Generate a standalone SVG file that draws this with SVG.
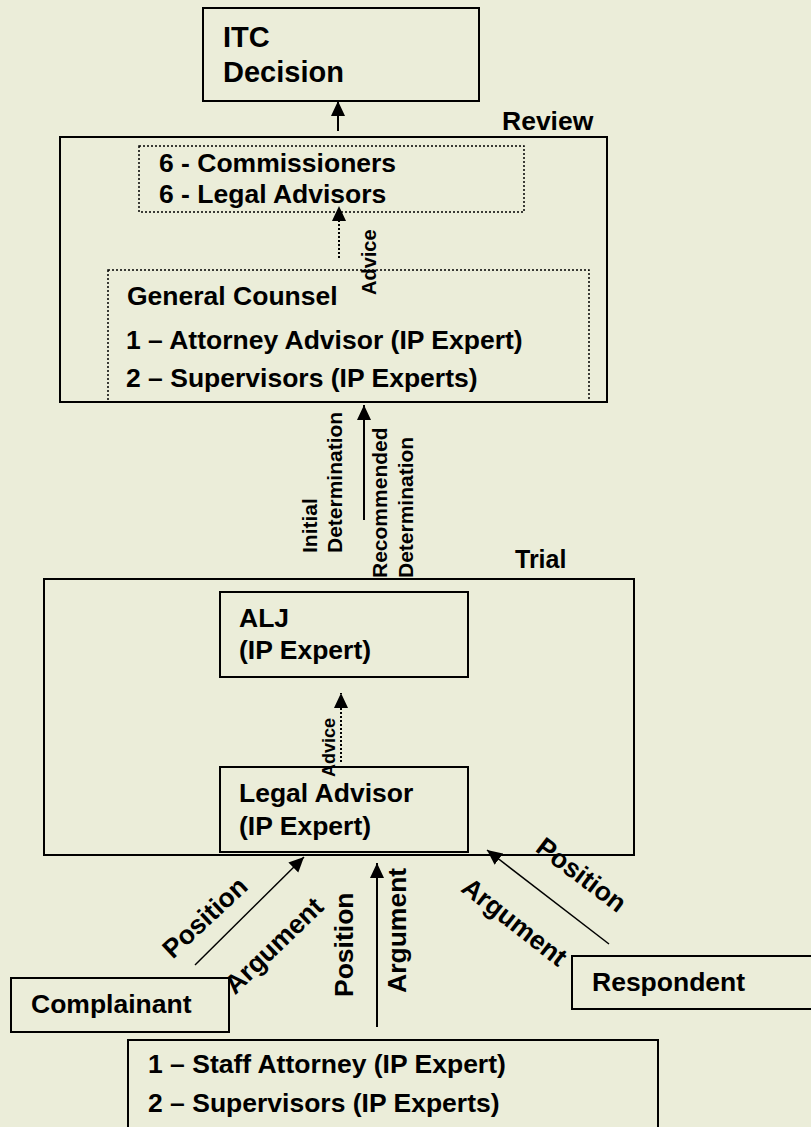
<svg xmlns="http://www.w3.org/2000/svg" width="811" height="1127" viewBox="0 0 811 1127">
<defs>
<style>
.box{fill:none;stroke:#000;stroke-width:2}
.dbox{fill:none;stroke:#000;stroke-width:1.5;stroke-dasharray:2,2}
.t{font-family:"Liberation Sans",Arial,sans-serif;font-weight:bold;font-size:26.5px;fill:#000}
.big{font-size:29px}
.sm{font-size:21px}
.adv{font-size:20px}
.line{stroke:#000;stroke-width:2;fill:none}
.thin{stroke:#000;stroke-width:1.5;fill:none}
.dot{stroke:#000;stroke-width:2;stroke-dasharray:2,2;fill:none}
</style>
<marker id="ah" markerUnits="userSpaceOnUse" markerWidth="16" markerHeight="16" viewBox="0 0 16 16" refX="15" refY="8" orient="auto">
<path d="M0,1 L15,8 L0,15 Z" fill="#000"/>
</marker>
</defs>
<rect width="811" height="1127" fill="#EBEDD9"/>

<g id="itc-decision">
<rect class="box" x="203" y="8" width="276" height="93"/>
<text class="t big" x="223" y="47">ITC</text>
<text class="t big" x="223" y="82">Decision</text>
</g>

<g id="review">
<rect class="box" x="60" y="137" width="547" height="265"/>
<text class="t" x="502" y="130">Review</text>
</g>

<g id="commissioners">
<rect class="dbox" x="139" y="146" width="385" height="66"/>
<text class="t" x="159" y="172">6 - Commissioners</text>
<text class="t" x="159" y="203">6 - Legal Advisors</text>
</g>

<g id="general-counsel">
<rect class="dbox" x="108" y="270" width="481" height="132"/>
<text class="t" x="127" y="305">General Counsel</text>
<text class="t" x="126" y="349">1 – Attorney Advisor (IP Expert)</text>
<text class="t" x="126" y="387">2 – Supervisors (IP Experts)</text>
</g>

<g id="trial">
<rect class="box" x="44" y="579" width="590" height="276"/>
<text class="t" x="515" y="568" style="font-size:25px">Trial</text>
</g>

<g id="alj">
<rect class="box" x="220" y="592" width="248" height="85"/>
<text class="t" x="239" y="627">ALJ</text>
<text class="t" x="239" y="659">(IP Expert)</text>
</g>

<g id="legal-advisor">
<rect class="box" x="220" y="767" width="248" height="85"/>
<text class="t" x="239" y="802">Legal Advisor</text>
<text class="t" x="239" y="835">(IP Expert)</text>
</g>

<g id="complainant">
<rect class="box" x="11" y="978" width="218" height="54"/>
<text class="t" x="31" y="1013">Complainant</text>
</g>

<g id="respondent">
<rect class="box" x="572" y="956" width="250" height="53"/>
<text class="t" x="592" y="991">Respondent</text>
</g>

<g id="staff">
<rect class="box" x="128" y="1040" width="530" height="100"/>
<text class="t" x="148" y="1073">1 – Staff Attorney (IP Expert)</text>
<text class="t" x="148" y="1112">2 – Supervisors (IP Experts)</text>
</g>

<g id="connectors">
<line class="line" x1="338" y1="131" x2="338" y2="101" marker-end="url(#ah)"/>
<line class="dot" x1="339" y1="258" x2="339" y2="206" marker-end="url(#ah)"/>
<text class="t adv" transform="translate(376,295) rotate(-90)">Advice</text>
<line class="line" x1="364" y1="520" x2="364" y2="405" marker-end="url(#ah)"/>
<text class="t sm" transform="translate(317,553) rotate(-90)">Initial</text>
<text class="t sm" transform="translate(342,553) rotate(-90)">Determination</text>
<text class="t sm" transform="translate(387,578) rotate(-90)">Recommended</text>
<text class="t sm" transform="translate(413,578) rotate(-90)">Determination</text>
<line class="dot" x1="341" y1="762" x2="341" y2="693" marker-end="url(#ah)"/>
<text class="t" style="font-size:18px" transform="translate(335,777) rotate(-90)">Advice</text>
<line class="thin" x1="195" y1="965" x2="304" y2="857" marker-end="url(#ah)"/>
<text class="t" text-anchor="middle" transform="translate(211,924) rotate(-43)">Position</text>
<text class="t" text-anchor="middle" transform="translate(280,952) rotate(-44)">Argument</text>
<line class="line" x1="377" y1="1027" x2="377" y2="863" marker-end="url(#ah)"/>
<text class="t" transform="translate(353,997) rotate(-90)">Position</text>
<text class="t" transform="translate(406,993) rotate(-90)">Argument</text>
<line class="thin" x1="609" y1="944" x2="487" y2="850" marker-end="url(#ah)"/>
<text class="t" text-anchor="middle" transform="translate(576,882) rotate(37)">Position</text>
<text class="t" text-anchor="middle" transform="translate(509,929) rotate(38)">Argument</text>
</g>
</svg>
